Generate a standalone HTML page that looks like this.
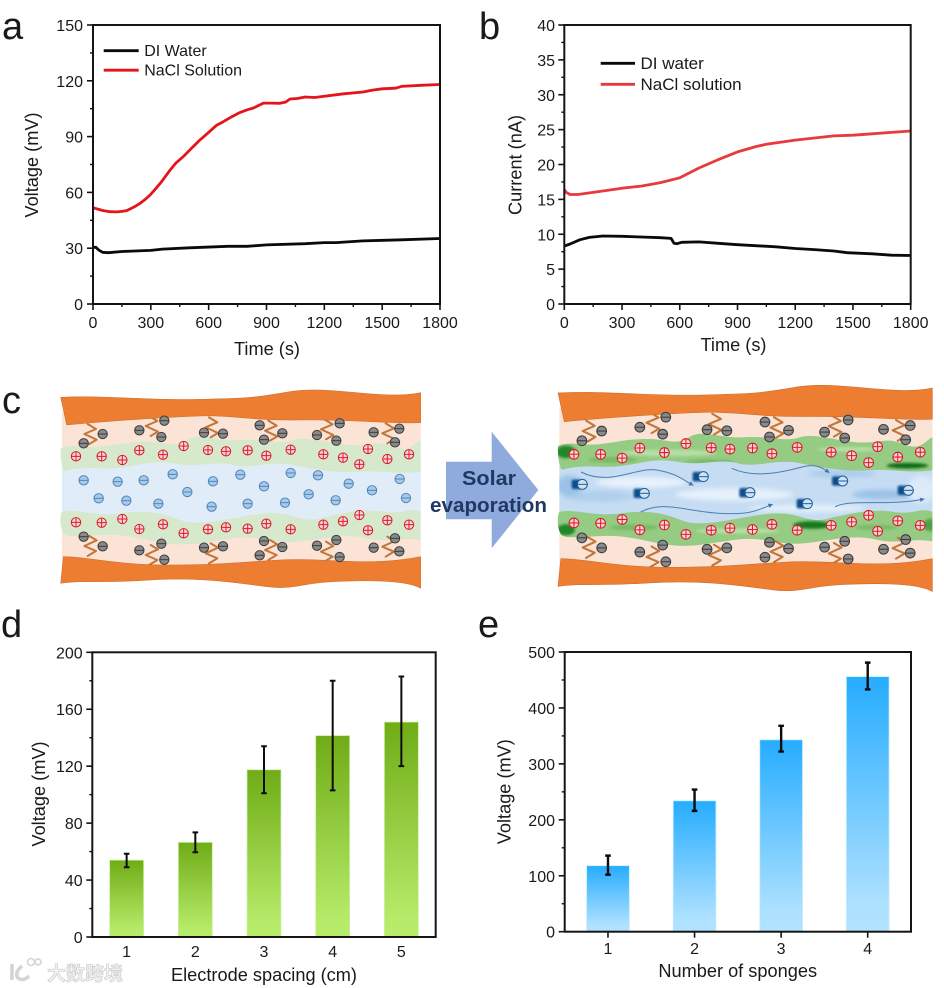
<!DOCTYPE html>
<html>
<head>
<meta charset="utf-8">
<title>Voltage and current panels with solar evaporation schematic</title>
<style>
html,body{margin:0;padding:0;background:#fff;width:944px;height:988px;overflow:hidden}
svg{display:block;filter:blur(0.35px)}
text{font-family:"Liberation Sans","Noto Sans CJK SC",sans-serif;fill:#1a1a1a}
</style>
</head>
<body>
<svg id="fig" xmlns="http://www.w3.org/2000/svg" width="944" height="988" viewBox="0 0 944 988">
<defs>
<linearGradient id="gradGreen" x1="0" y1="0" x2="0" y2="1"><stop offset="0" stop-color="#6fac16"/><stop offset="0.9" stop-color="#b5ea68"/><stop offset="1" stop-color="#b8ed6c"/></linearGradient>
<linearGradient id="gradBlue" x1="0" y1="0" x2="0" y2="1"><stop offset="0" stop-color="#26acff"/><stop offset="0.9" stop-color="#aee1ff"/><stop offset="1" stop-color="#b2e3ff"/></linearGradient>
<filter id="blur6" x="-50%" y="-50%" width="200%" height="200%"><feGaussianBlur stdDeviation="7"/></filter>
<filter id="blur3" x="-50%" y="-50%" width="200%" height="200%"><feGaussianBlur stdDeviation="4"/></filter>
<filter id="blur2" x="-50%" y="-50%" width="200%" height="200%"><feGaussianBlur stdDeviation="3"/></filter>
<marker id="flowHeadBig" markerWidth="16" markerHeight="14" refX="13" refY="7" orient="auto" markerUnits="userSpaceOnUse"><path d="M0,0 L14,7 L0,14 Z" fill="#3f78a8"/></marker>
<clipPath id="clipGreen"><path id="clipGreenTop" d=""/><path id="clipGreenBottom" d=""/></clipPath>
<clipPath id="clipWater"><rect x="186" y="230" width="1076" height="200"/></clipPath>
</defs>

<text x="2" y="39" font-size="38">a</text>
<text x="479" y="39" font-size="38">b</text>
<text x="2" y="413" font-size="38">c</text>
<text x="1" y="637" font-size="38">d</text>
<text x="478" y="637" font-size="38">e</text>

<g id="chartA"></g>
<g id="chartB"></g>
<g id="chartD"></g>
<g id="chartE"></g>

<g id="schemLeft" transform="translate(0,380) scale(0.33333)"></g>
<g id="schemRight" transform="translate(470,380) scale(0.33333) translate(264,331) scale(1.04) translate(-182,-333)"></g>
<g id="schemRightFlow" transform="translate(470,380) scale(0.33333)"></g>

<path d="M446,461.7 H491.7 V431.7 L538.3,490 L491.7,548.3 V519.3 H446 Z" fill="#8faadc"/>
<text x="489" y="485" font-size="20" font-weight="bold" text-anchor="middle" textLength="54" lengthAdjust="spacingAndGlyphs" style="fill:#203864">Solar</text>
<text x="488.500" y="512" font-size="20" font-weight="bold" text-anchor="middle" textLength="117" lengthAdjust="spacingAndGlyphs" style="fill:#203864">evaporation</text>

<g>
<circle cx="31" cy="962" r="3.500" fill="#fff" stroke="#d4d4d4" stroke-width="1.600"/>
<circle cx="38" cy="962" r="3" fill="#fff" stroke="#d4d4d4" stroke-width="1.600"/>
<path d="M12,964 V980 M22,966 Q14,973 18,978 Q23,982 29,976" fill="none" stroke="#d4d4d4" stroke-width="3.500"/>
<text x="47" y="980" font-size="19" font-weight="bold" textLength="76" lengthAdjust="spacingAndGlyphs" style="fill:#f2f2f2;stroke:#c8c8c8;stroke-width:0.6">大数跨境</text>
</g>
</svg>

<script>
/* Panel a data */
const aDiTimes=[0,15,30,50,80,150,300,360,500,700,800,900,1100,1200,1260,1400,1600,1800];
const aDiValues=[30.5,30.5,29,27.8,27.6,28.2,28.8,29.5,30.2,31,31,31.8,32.4,33,33,33.9,34.5,35.2];
const aNaclTimes=[0,25,53,90,123,150,175,210,244,270,296,325,356,400,430,468,510,555,600,642,676,720,763,800,832,860,884,925,970,1000,1022,1060,1100,1150,1200,1300,1400,1450,1500,1570,1600,1700,1800];
const aNaclValues=[51.8,51,50.2,49.6,49.5,49.8,50.2,52,54.1,56.2,58.6,62,65.8,72,75.8,79.2,83.6,88.2,92.3,96.2,98,100.7,103,104.4,105.4,106.8,108,108,107.9,108.6,110.2,110.5,111.3,111,111.7,113,114,115,115.7,116,117,117.6,118];
const aXTicks=[0,300,600,900,1200,1500,1800];
const aYTicks=[0,30,60,90,120,150];

/* Panel b data */
const bDiTimes=[0,30,80,130,200,300,400,500,555,570,585,610,700,800,900,1100,1200,1300,1400,1470,1600,1700,1800];
const bDiValues=[8.3,8.6,9.2,9.55,9.75,9.7,9.6,9.5,9.4,8.7,8.65,8.85,8.9,8.7,8.5,8.2,7.95,7.8,7.6,7.35,7.2,7,6.95];
const bNaclTimes=[0,10,30,70,200,300,400,500,600,700,800,900,1000,1050,1200,1300,1400,1500,1600,1700,1800];
const bNaclValues=[16.4,16,15.7,15.7,16.2,16.6,16.9,17.4,18.1,19.5,20.7,21.8,22.6,22.9,23.5,23.8,24.1,24.2,24.4,24.6,24.8];
const bXTicks=[0,300,600,900,1200,1500,1800];
const bYTicks=[0,5,10,15,20,25,30,35,40];

/* Panel d data */
const dCategories=[1,2,3,4,5];
const dValues=[54,66.5,117.5,141.5,151];
const dErrLow=[49,59.5,101,103,120];
const dErrHigh=[58.5,73.5,134,180,183];
const dYTicks=[0,40,80,120,160,200];

/* Panel e data */
const eCategories=[1,2,3,4];
const eValues=[118,234,343,456];
const eErrLow=[102,216,322,433];
const eErrHigh=[136,254,368,481];
const eYTicks=[0,100,200,300,400,500];

const NS='http://www.w3.org/2000/svg';
const AXIS='#141414';
function mk(tag,attrs,parent,txt){
  const e=document.createElementNS(NS,tag);
  for(const k in attrs){e.setAttribute(k,attrs[k]);}
  if(txt!==undefined){e.textContent=txt;}
  parent.appendChild(e);
  return e;
}
function linScale(d0,d1,r0,r1){return function(v){return r0+(v-d0)/(d1-d0)*(r1-r0);};}

function drawFrame(g,box,yScale,yTicks,labelRight){
  const frame=mk('rect',{x:box.l,y:box.t,width:box.r-box.l,height:box.b-box.t,fill:'none',stroke:AXIS,'stroke-width':2},g);
  
  
  yTicks.forEach(function(v,i){
    const y=yScale(v);
    const t=mk('line',{x1:box.l-6,x2:box.l,y1:y,y2:y,stroke:AXIS,'stroke-width':1.6},g);
    
    
    const lb=mk('text',{x:labelRight,y:y+6,'font-size':16,'text-anchor':'end'},g,String(v));
    
    
    if(i<yTicks.length-1){
      const ym=yScale((v+yTicks[i+1])/2);
      const m=mk('line',{x1:box.l-3,x2:box.l,y1:ym,y2:ym,stroke:AXIS,'stroke-width':1.4},g);
      
      
    }
  });
}
function axisTitles(g,xTitle,xc,xb,yTitle,yb,yc,fs){
  const a=mk('text',{x:xc,y:xb,'font-size':fs,'text-anchor':'middle'},g,xTitle);
  
  
  const b=mk('text',{x:0,y:0,'font-size':fs,'text-anchor':'middle',transform:'translate('+yb+','+yc+') rotate(-90)'},g,yTitle);
  
  
}
function linePath(xs,ys,xScale,yScale){
  return xs.map(function(t,i){return (i?'L':'M')+xScale(t).toFixed(1)+','+yScale(ys[i]).toFixed(1);}).join(' ');
}
function lineChart(g,box,xTicks,yTicks,labelRight,series,legend,legendSize){
  const xMax=xTicks[xTicks.length-1], yMax=yTicks[yTicks.length-1];
  const xs=linScale(0,xMax,box.l,box.r), ys=linScale(0,yMax,box.b,box.t);
  series.forEach(function(s){
    const p=mk('path',{d:linePath(s.t,s.v,xs,ys),fill:'none',stroke:s.color,'stroke-width':s.w,'stroke-linejoin':'round'},g);
    
    
  });
  drawFrame(g,box,ys,yTicks,labelRight);
  xTicks.forEach(function(v,i){
    const x=xs(v);
    const t=mk('line',{x1:x,x2:x,y1:box.b,y2:box.b+6,stroke:AXIS,'stroke-width':1.6},g);
    
    
    const lb=mk('text',{x:x,y:box.b+24,'font-size':16,'text-anchor':'middle'},g,String(v));
    
    
    if(i<xTicks.length-1){
      const xm=xs((v+xTicks[i+1])/2);
      const m=mk('line',{x1:xm,x2:xm,y1:box.b,y2:box.b+3,stroke:AXIS,'stroke-width':1.4},g);
      
      
    }
  });
  legend.forEach(function(l){
    const k=mk('line',{x1:l.x1,x2:l.x2,y1:l.y,y2:l.y,stroke:l.color,'stroke-width':2.8},g);
    
    
    const tx=mk('text',{x:l.x2+5.5,y:l.y+5.5,'font-size':legendSize},g,l.label);
    
    
  });
}
function barChart(g,box,cats,vals,lows,highs,yTicks,labelRight,barW,grad,edge,tickOut,labelBase,errW){
  const yMax=yTicks[yTicks.length-1];
  const ys=linScale(0,yMax,box.b,box.t);
  const xs=linScale(cats[0]-0.5,cats[cats.length-1]+0.5,box.l,box.r);
  cats.forEach(function(c,i){
    const x=xs(c), top=ys(vals[i]);
    const r=mk('rect',{x:x-barW/2,y:top,width:barW,height:box.b-top,fill:'url(#'+grad+')',stroke:edge,'stroke-width':0.8},g);
    
    
  });
  cats.forEach(function(c,i){
    const x=xs(c), yh=ys(highs[i]), yl=ys(lows[i]);
    const e=mk('path',{d:'M'+(x-2.8)+','+yh+' H'+(x+2.8)+' M'+x+','+yh+' V'+yl+' M'+(x-2.8)+','+yl+' H'+(x+2.8),fill:'none',stroke:'#0c0c0c','stroke-width':errW},g);
    
    
    if(tickOut){
      const t=mk('line',{x1:x,x2:x,y1:box.b,y2:box.b+tickOut,stroke:AXIS,'stroke-width':1.6},g);
      
      
    }
    const lb=mk('text',{x:x,y:labelBase,'font-size':16,'text-anchor':'middle'},g,String(c));
    
    
  });
  drawFrame(g,box,ys,yTicks,labelRight);
}

const gA=document.getElementById('chartA');
lineChart(gA,{l:93,r:440,t:25,b:304},aXTicks,aYTicks,83,[
  {t:aDiTimes,v:aDiValues,color:'#0a0a0a',w:2.8,name:'di-water-line'},
  {t:aNaclTimes,v:aNaclValues,color:'#e5131b',w:2.8,name:'nacl-solution-line'}
],[
  {x1:103.700,x2:138.700,y:50.700,color:'#0a0a0a',label:'DI Water'},
  {x1:103.700,x2:138.700,y:70.200,color:'#e5131b',label:'NaCl Solution'}
],16);
axisTitles(gA,'Time (s)',267,355,'Voltage (mV)',38,165,18.2);

const gB=document.getElementById('chartB');
lineChart(gB,{l:564.300,r:910.700,t:25,b:304},bXTicks,bYTicks,555,[
  {t:bDiTimes,v:bDiValues,color:'#0a0a0a',w:2.8,name:'di-water-line'},
  {t:bNaclTimes,v:bNaclValues,color:'#e8393c',w:2.8,name:'nacl-solution-line'}
],[
  {x1:600.700,x2:635,y:63.300,color:'#0a0a0a',label:'DI water'},
  {x1:600.700,x2:635,y:84.300,color:'#e8393c',label:'NaCl solution'}
],17);
axisTitles(gB,'Time (s)',733.500,351,'Current (nA)',521.700,165,18.2);

const gD=document.getElementById('chartD');
barChart(gD,{l:92.300,r:435.700,t:652.300,b:937},dCategories,dValues,dErrLow,dErrHigh,dYTicks,82.700,34,'gradGreen','#d2f0a8',0,957,2);
axisTitles(gD,'Electrode spacing (cm)',264,981,'Voltage (mV)',45,794,18.2);

const gE=document.getElementById('chartE');
barChart(gE,{l:564.700,r:911,t:652,b:931.700},eCategories,eValues,eErrLow,eErrHigh,eYTicks,555,42.700,'gradBlue','#c4ecff',6,954,2.4);
axisTitles(gE,'Number of sponges',737.700,977,'Voltage (mV)',510.700,791.700,18.2);

/* Schematic layout */
const greyTop=[[251,190],[308,162],[418,151],[493,122],[484,171],[612,158],[669,161],[779,136],[847,160],[792,179],[951,165],[1019,130],[1009,182],[1121,157],[1198,146],[1185,187]];
const greyBottom=[[251,470],[308,499],[418,511],[484,491],[493,539],[612,503],[669,499],[792,483],[847,501],[779,526],[951,497],[1009,480],[1019,531],[1121,503],[1185,475],[1198,514]];
const redTop=[[228,229],[305,229],[367,240],[418,211],[489,224],[551,198],[624,210],[678,214],[743,211],[799,227],[872,209],[970,223],[1029,233],[1104,207],[1078,253],[1162,237],[1227,223]];
const redBottom=[[228,427],[305,428],[367,417],[418,447],[489,433],[551,460],[624,448],[678,442],[743,446],[799,431],[872,448],[970,434],[1029,424],[1078,405],[1104,451],[1162,421],[1227,434]];
const blueIons=[[251,301],[353,305],[431,301],[518,283],[639,304],[721,284],[792,319],[872,279],[954,286],[1046,311],[1116,331],[1199,297],[296,355],[379,362],[475,371],[562,336],[635,380],[743,371],[855,368],[926,343],[1007,361],[1218,354]];
const zigTop=[[268,132],[452,108],[632,112],[810,122],[978,118],[1162,130]];
const zigBottom=[[268,528],[452,555],[632,550],[810,540],[978,545],[1162,530]];
const flowIons=[[337,313],[700,290],[1118,303],[523,340],[840,338],[1012,371],[1315,331]];
const flowLines=['M333,276 C420,320 500,260 560,270 S640,300 670,316','M785,265 C860,300 960,270 1000,260 S1060,265 1078,278','M512,396 C580,360 650,395 750,400 S860,390 908,373','M1095,380 C1150,355 1250,380 1363,357'];
const ORANGE_TOP='M182,52 C300,45 450,62 600,58 S750,55 870,35 S1150,62 1262,38 L1262,128 C1180,132 1050,118 900,120 S700,105 600,108 S300,125 200,135 Z';
const ORANGE_BOTTOM='M190,530 C260,530 350,555 500,555 S700,548 840,540 S1100,562 1262,530 L1262,625 C1220,600 1100,600 1000,605 S880,630 800,620 S600,590 450,600 S250,600 182,610 Z';
const GREEN_TOP='M182,205 C215,190 250,205 300,200 S380,185 440,185 S520,205 560,180 S650,185 720,180 S840,195 880,180 S1000,195 1060,195 S1130,180 1180,200 S1240,190 1262,180 L1262,275 C1200,285 1140,270 1080,275 S950,270 880,255 S760,270 700,255 S600,265 520,250 S400,270 300,265 S200,280 190,270 Q180,240 182,205 Z';
const GREEN_BOTTOM='M185,395 C230,385 290,410 360,400 S480,395 540,420 S720,405 800,400 S900,430 960,415 S1090,385 1150,395 S1230,380 1262,395 L1262,480 C1200,470 1160,490 1100,475 S980,475 900,485 S780,465 700,475 S570,500 500,490 S380,460 300,465 S200,470 190,460 Q175,430 185,395 Z';
document.getElementById('clipGreenTop').setAttribute('d',GREEN_TOP);
document.getElementById('clipGreenBottom').setAttribute('d',GREEN_BOTTOM);

function ion(g,x,y,kind){
  const st={grey:['#8a8a8a','#3c3c3c'],red:['#f9d3d3','#d3202c'],blue:['#a9c9e8','#4f86bb']}[kind];
  const c=mk('circle',{cx:x,cy:y,r:14,fill:st[0],stroke:st[1],'stroke-width':3},g);
  
  
  const d=kind==='red'?'M'+(x-14)+','+y+' H'+(x+14)+' M'+x+','+(y-14)+' V'+(y+14):'M'+(x-14)+','+y+' H'+(x+14);
  const s=mk('path',{d:d,stroke:st[1],'stroke-width':3,fill:'none'},g);
  
  
}
function zig(g,x,y,dir){
  const d='M'+(x-5)+','+y+' L'+(x+20)+','+(y+15*dir)+' L'+(x-15)+','+(y+30*dir)+' L'+(x+22)+','+(y+47*dir)+' L'+(x)+','+(y+60*dir);
  const p=mk('path',{d:d,fill:'none',stroke:'#c1763c','stroke-width':6,'stroke-linejoin':'round','stroke-linecap':'round'},g);
  
  
}
function drawSchematic(g,right){
  const peach=mk('rect',{x:186,y:95,width:1076,height:470,fill:'#fbe4d6'},g);
  
  
  const blue=mk('rect',{x:186,y:230,width:1076,height:200,fill:right?'#c6dcf3':'#e0ecf8'},g);
  
  
  if(right){
    const water=mk('g',{'clip-path':'url(#clipWater)'},g);
    
    
    [[420,310,130,16,'#e8f2fb'],[690,345,170,18,'#e6f1fb'],[1000,285,100,10,'#a9cbea'],[1120,345,90,14,'#9ac2e8'],[300,350,100,16,'#b0cfec'],[900,385,170,10,'#e6f1fb'],[215,320,40,30,'#9ac2e8'],[1230,330,40,40,'#dceafa']].forEach(function(b){
      const e=mk('ellipse',{cx:b[0],cy:b[1],rx:b[2],ry:b[3],fill:b[4],filter:'url(#blur6)'},water);
      
      
    });
  }
  const g1=mk('path',{d:GREEN_TOP,fill:right?'#95cb82':'#d6e9cc'},g);
  
  
  const g2=mk('path',{d:GREEN_BOTTOM,fill:right?'#95cb82':'#d6e9cc'},g);
  
  
  if(right){
    const shade=mk('g',{'clip-path':'url(#clipGreen)'},g);
    
    
    [[205,222,28,18,'#23862a'],[1190,262,60,8,'#0f6a12'],[915,433,55,11,'#187a1c'],[205,447,26,16,'#23862a'],[1258,433,24,18,'#4da446'],[500,225,140,10,'#b5deA6'],[700,450,120,8,'#b5dea6'],[1020,215,90,7,'#b5dea6'],[340,245,70,8,'#78b966'],[620,250,70,6,'#78b966'],[400,440,70,8,'#78b966'],[1100,440,60,7,'#78b966']].forEach(function(b){
      const e=mk('ellipse',{cx:b[0],cy:b[1],rx:b[2],ry:b[3],fill:b[4],filter:'url(#blur3)'},shade);
      
      
    });
  }
  zigTop.forEach(function(z){zig(g,z[0],z[1],1);});
  zigBottom.forEach(function(z){zig(g,z[0],z[1],-1);});
  const o1=mk('path',{d:ORANGE_TOP,fill:'#ed7d31',stroke:'#c9692a','stroke-width':1.5},g);
  
  
  const o2=mk('path',{d:ORANGE_BOTTOM,fill:'#ed7d31',stroke:'#c9692a','stroke-width':1.5},g);
  
  
  greyTop.concat(greyBottom).forEach(function(p){ion(g,p[0],p[1],'grey');});
  redTop.concat(redBottom).forEach(function(p){ion(g,p[0],p[1],'red');});
  if(!right){blueIons.forEach(function(p){ion(g,p[0],p[1],'blue');});}
}
drawSchematic(document.getElementById('schemLeft'),false);
drawSchematic(document.getElementById('schemRight'),true);

const flowG=document.getElementById('schemRightFlow');
flowLines.forEach(function(d){
  const p=mk('path',{d:d,fill:'none',stroke:'#4a80ad','stroke-width':3,'marker-end':'url(#flowHeadBig)'},flowG);
  
  
});
flowIons.forEach(function(p){
  const t=mk('rect',{x:p[0]-32,y:p[1]-14,width:28,height:28,rx:6,fill:'#0f4c8c',filter:'url(#blur2)'},flowG);
  
  
  const c=mk('circle',{cx:p[0],cy:p[1],r:15,fill:'#cfe2f4',stroke:'#1f5f9a','stroke-width':3},flowG);
  
  
  const s=mk('path',{d:'M'+(p[0]-15)+','+p[1]+' H'+(p[0]+15),stroke:'#1f5f9a','stroke-width':3},flowG);
  
  
});
</script>
</body>
</html>
